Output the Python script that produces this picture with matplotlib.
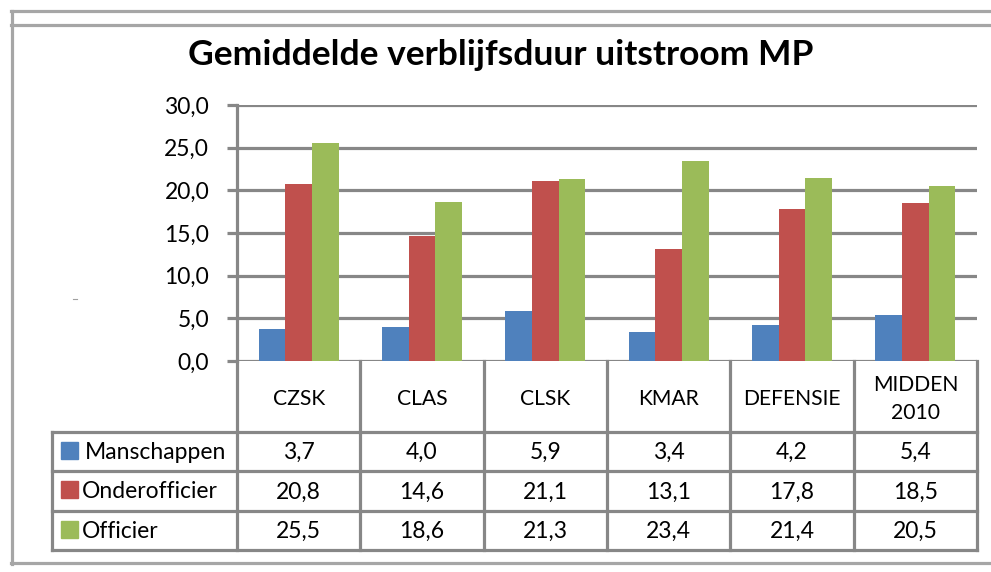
import matplotlib
matplotlib.use('Agg')

import matplotlib.pyplot as plt
import numpy as np

plt.rcParams['font.family'] = ['Lato', 'DejaVu Sans']

categories = ['CZSK', 'CLAS', 'CLSK', 'KMAR', 'DEFENSIE', 'MIDDEN\n2010']
series = ['Manschappen', 'Onderofficier', 'Officier']
manschappen = [3.7, 4.0, 5.9, 3.4, 4.2, 5.4]
onderofficier = [20.8, 14.6, 21.1, 13.1, 17.8, 18.5]
officier = [25.5, 18.6, 21.3, 23.4, 21.4, 20.5]
colors = ['#4F81BD', '#C0504D', '#9BBB59']
yticks = [0, 5, 10, 15, 20, 25, 30]

W, H = 991, 572
grid_c = '#878787'
frame_c = '#A6A6A6'
fs = 16.5

fig = plt.figure(figsize=(W / 100, H / 100), dpi=100)

# plot area in pixel coordinates
px_l, px_r, px_t, px_b = 237, 977, 105, 361
ax = fig.add_axes([px_l / W, 1 - px_b / H, (px_r - px_l) / W, (px_b - px_t) / H])

values = [manschappen, onderofficier, officier]
n = len(categories)
x = np.arange(n)
bw = 0.217
for i, (vals, c) in enumerate(zip(values, colors)):
    ax.bar(x + (i - 1) * bw, vals, width=bw, color=c, edgecolor='none', zorder=3)

ax.set_xlim(-0.5, n - 0.5)
ax.set_ylim(0, 30)
ax.set_yticks(yticks)
ax.set_yticklabels([f'{v:.1f}'.replace('.', ',') for v in yticks], fontsize=fs)
ax.set_xticks([])
ax.yaxis.grid(True, color=grid_c, linewidth=2.3, zorder=0)
ax.tick_params(axis='y', length=7, width=2.3, color=grid_c, pad=13)
for s in ['top', 'right', 'bottom']:
    ax.spines[s].set_visible(False)
ax.spines['left'].set_color(grid_c)
ax.spines['left'].set_linewidth(2.3)
ax.patch.set_alpha(0)

# overlay in pixel coordinates for the frame and data table
ov = fig.add_axes([0, 0, 1, 1], zorder=5)
ov.set_xlim(0, W)
ov.set_ylim(H, 0)
ov.axis('off')
ov.patch.set_alpha(0)

# outer frame
ov.plot([11, W], [11, 11], color=frame_c, lw=2.3)
ov.plot([11, W], [25, 25], color=frame_c, lw=2.3)
ov.plot([12, 12], [11, 564], color=frame_c, lw=2.3)
ov.plot([11, W], [563, 563], color=frame_c, lw=2.3)
ov.plot([73, 77], [299, 299], color='#A0A0A0', lw=0.8)

ov.text(501, 55, 'Gemiddelde verblijfsduur uitstroom MP', ha='center', va='center',
        fontsize=25.5, fontweight='bold')

# table
col_edges = np.linspace(px_l, px_r, n + 1)
row_edges = [432, 471, 511, 550]
tab_left = 52
for xe in col_edges:
    ov.plot([xe, xe], [px_b, row_edges[-1]], color=grid_c, lw=2.3, solid_capstyle='projecting')
for ye in row_edges:
    ov.plot([tab_left, px_r], [ye, ye], color=grid_c, lw=2.3, solid_capstyle='projecting')
ov.plot([tab_left, tab_left], [row_edges[0], row_edges[-1]], color=grid_c, lw=2.3,
        solid_capstyle='projecting')

centers = (col_edges[:-1] + col_edges[1:]) / 2
for cx, cat in zip(centers, categories):
    ov.text(cx, 399, cat, ha='center', va='center', fontsize=fs * 0.92, linespacing=1.5)

for r, (name, vals, c) in enumerate(zip(series, values, colors)):
    cy = (row_edges[r] + row_edges[r + 1]) / 2
    ov.add_patch(plt.Rectangle((61, cy - 10), 17, 17, color=c))
    ov.text(82 if r else 85, cy + 1, name, ha='left', va='center', fontsize=fs)
    for cx, v in zip(centers, vals):
        ov.text(cx, cy + 1, f'{v:.1f}'.replace('.', ','), ha='center', va='center', fontsize=fs)

fig.savefig('out.png', dpi=100)
